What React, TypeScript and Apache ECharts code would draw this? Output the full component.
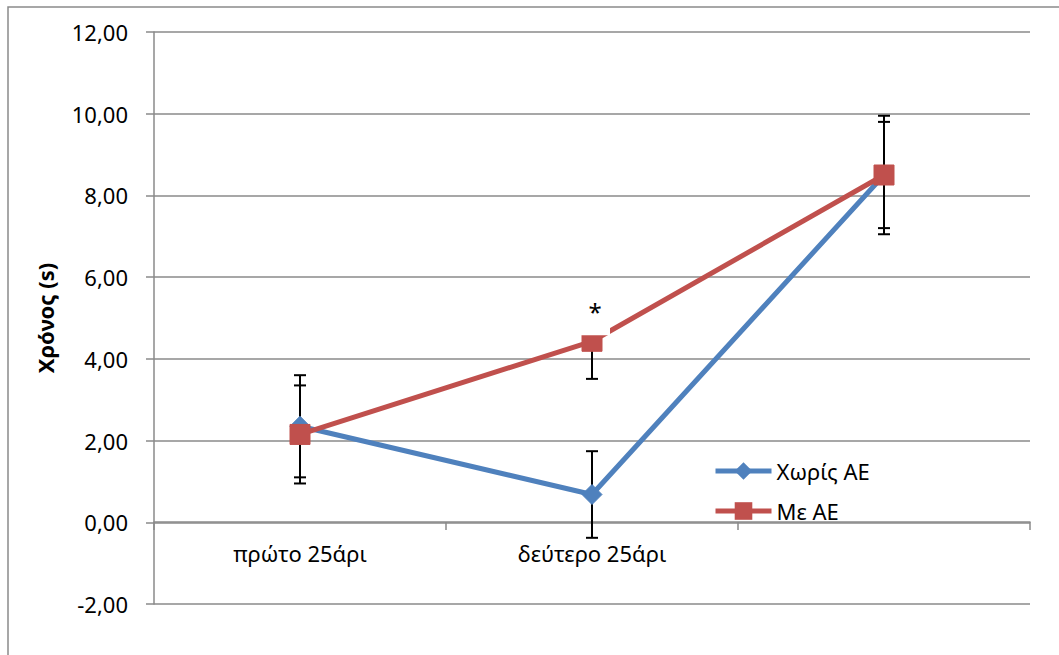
import React, { useEffect, useRef } from "react";
import * as echarts from "echarts";

const categories = ["πρώτο 25άρι", "δεύτερο 25άρι", ""];
const seriesNames = ["Χωρίς ΑΕ", "Με ΑΕ"];
const withoutAE = [2.35, 0.68, 8.5];
const withoutAEErr = [1.25, 1.06, 1.45];
const withAE = [2.15, 4.43, 8.5];
const withAEErr = [1.2, 0.92, 1.3];
const significance = [{ index: 1, mark: "*" }];
const yTicks = { min: -2, max: 12, interval: 2 };
const yAxisTitle = "Χρόνος (s)";

const FONT = "'Noto Sans', sans-serif";
const BLUE = "#4F81BD";
const RED = "#C0504D";
const GRID = "#8a8a8a";

export default function App() {
  const ref = useRef<HTMLDivElement>(null);

  useEffect(() => {
    if (!ref.current) return;
    const chart = echarts.init(ref.current, undefined, { renderer: "svg" });

    const errData = (vals: number[], errs: number[]) =>
      vals.map((v, i) => [i, v - errs[i], v + errs[i]]);

    const errorBarSeries = (name: string, vals: number[], errs: number[]) => ({
      type: "custom",
      name: name + " err",
      z: 1,
      silent: true,
      data: errData(vals, errs),
      encode: { x: 0, y: [1, 2] },
      renderItem: (params: any, api: any) => {
        const idx = api.value(0);
        const lo = api.coord([idx, api.value(1)]);
        const hi = api.coord([idx, api.value(2)]);
        const hw = 6;
        const style = { stroke: "#000", lineWidth: 2 };
        return {
          type: "group",
          children: [
            { type: "line", shape: { x1: hi[0], y1: hi[1], x2: lo[0], y2: lo[1] }, style },
            { type: "line", shape: { x1: hi[0] - hw, y1: hi[1], x2: hi[0] + hw, y2: hi[1] }, style },
            { type: "line", shape: { x1: lo[0] - hw, y1: lo[1], x2: lo[0] + hw, y2: lo[1] }, style },
          ],
        };
      },
    });

    const option: any = {
      animation: false,
      textStyle: { fontFamily: FONT },
      grid: { left: 154, right: 29, top: 32, bottom: 51, containLabel: false },
      graphic: [
        {
          type: "rect",
          shape: { x: 8, y: 7, width: 1200, height: 800 },
          style: { fill: "none", stroke: GRID, lineWidth: 1.5 },
          silent: true,
          z: -1,
        },
        {
          type: "text",
          x: 45,
          y: 318,
          rotation: Math.PI / 2,
          style: {
            text: yAxisTitle,
            font: `bold 22px ${FONT}`,
            fill: "#000",
            align: "center",
            verticalAlign: "middle",
          },
        },
      ],
      legend: {
        data: seriesNames,
        orient: "vertical",
        left: 708,
        top: 455,
        itemWidth: 56,
        itemHeight: 22,
        itemGap: 18,
        lineStyle: { width: 5 },
        textStyle: { fontSize: 22, color: "#000", fontFamily: FONT },
      },
      xAxis: {
        type: "category",
        data: categories,
        boundaryGap: true,
        offset: -82,
        axisLine: { show: true, onZero: false, lineStyle: { color: GRID, width: 1.5 } },
        axisTick: { show: true, length: 8, lineStyle: { color: GRID, width: 1.5 } },
        axisLabel: { color: "#000", fontSize: 22, margin: 20, fontFamily: FONT },
        splitLine: { show: false },
      },
      yAxis: {
        type: "value",
        min: yTicks.min,
        max: yTicks.max,
        interval: yTicks.interval,
        axisLine: { show: true, lineStyle: { color: GRID, width: 1.5 } },
        axisTick: { show: true, length: 8, inside: false, lineStyle: { color: GRID, width: 1.5 } },
        axisLabel: {
          color: "#000",
          fontSize: 22,
          margin: 26,
          fontFamily: FONT,
          formatter: (v: number) => v.toFixed(2).replace(".", ","),
        },
        splitLine: { show: true, lineStyle: { color: GRID, width: 1.5 } },
      },
      series: [
        errorBarSeries(seriesNames[0], withoutAE, withoutAEErr),
        errorBarSeries(seriesNames[1], withAE, withAEErr),
        {
          type: "line",
          name: seriesNames[0],
          data: withoutAE,
          z: 2,
          symbol: "diamond",
          symbolSize: 20,
          showAllSymbol: true,
          lineStyle: { color: BLUE, width: 5 },
          itemStyle: { color: BLUE, borderColor: BLUE },
        },
        {
          type: "line",
          name: seriesNames[1],
          data: withAE,
          z: 2,
          symbol: "rect",
          symbolSize: 20,
          showAllSymbol: true,
          lineStyle: { color: RED, width: 5 },
          itemStyle: { color: RED, borderColor: RED },
        },
        {
          type: "custom",
          name: "significance",
          z: 3,
          silent: true,
          data: significance.map((s) => [s.index, withAE[s.index]]),
          encode: { x: 0, y: 1 },
          renderItem: (params: any, api: any) => {
            const p = api.coord([api.value(0), api.value(1)]);
            const mark = significance[params.dataIndex].mark;
            return {
              type: "group",
              children: [
                {
                  type: "rect",
                  shape: { x: p[0] - 12, y: p[1] - 56, width: 30, height: 50 },
                  style: { fill: "#fff" },
                },
                {
                  type: "text",
                  x: p[0] + 3,
                  y: p[1] - 30,
                  style: {
                    text: mark,
                    font: `24px ${FONT}`,
                    fill: "#000",
                    align: "center",
                    verticalAlign: "middle",
                  },
                },
              ],
            };
          },
        },
      ],
    };

    chart.setOption(option);
    return () => chart.dispose();
  }, []);

  return (
    <div
      ref={ref}
      style={{ position: "absolute", left: 0, top: 0, width: 1059, height: 655, overflow: "hidden", background: "#fff" }}
    />
  );
}
